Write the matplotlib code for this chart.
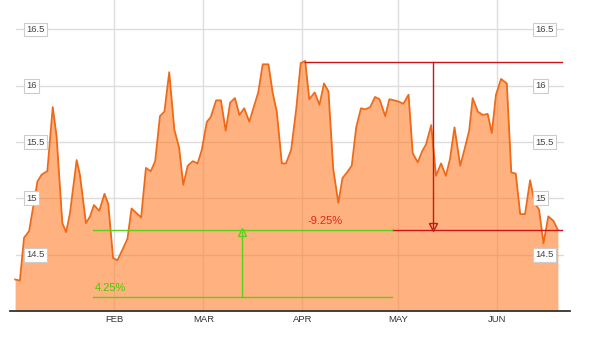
import matplotlib
matplotlib.use("Agg")
import matplotlib.pyplot as plt
import matplotlib.transforms as mtransforms

plt.rcParams['font.family'] = ['Liberation Sans', 'DejaVu Sans']

# day of year (0 = Jan 1) for each point
days = [0.0, 1.5, 2.8, 4.4, 5.7, 7.0, 8.3, 9.4, 10.1, 11.8, 13.0, 14.8, 16.0, 17.2,
        19.3, 20.3, 22.2, 23.5, 24.7, 26.4, 28.0, 29.2, 30.7, 32.1, 35.2, 36.5,
        39.5, 41.0, 42.5, 43.9, 45.4, 46.8, 48.3, 49.9, 51.4, 52.7, 54.1, 55.7,
        57.2, 58.5, 60.1, 61.3, 63.0, 64.5, 66.0, 67.4, 68.9, 70.3, 71.8, 73.4,
        75.0, 76.2, 77.6, 79.4, 80.7, 82.0, 83.6, 84.9, 86.5, 88.1, 89.5, 90.9,
        92.2, 93.9, 95.4, 96.8, 98.2, 99.7, 101.3, 102.6, 104.0, 105.5, 106.9,
        108.4, 109.7, 111.3, 112.8, 114.2, 116.0, 117.3, 118.8, 120.1, 121.7,
        123.3, 124.6, 126.2, 127.6, 128.8, 130.4, 131.9, 133.5, 135.0, 136.3,
        137.7, 139.5, 140.8, 142.3, 143.4, 145.0, 146.6, 148.1, 149.4, 150.7,
        152.3, 154.1, 155.5, 156.9, 158.3, 159.8, 161.4, 162.8, 164.2, 165.6,
        167.1, 168.7, 170.1]
prices = [14.28, 14.27, 14.65, 14.71, 14.93, 15.15, 15.21, 15.23, 15.24, 15.81,
          15.55, 14.78, 14.70, 14.87, 15.34, 15.21, 14.78, 14.84, 14.94, 14.89,
          15.04, 14.95, 14.47, 14.45, 14.64, 14.91, 14.83, 15.27, 15.24, 15.33,
          15.73, 15.77, 16.12, 15.61, 15.45, 15.12, 15.29, 15.33, 15.31, 15.43,
          15.68, 15.72, 15.87, 15.87, 15.60, 15.85, 15.89, 15.74, 15.80, 15.68,
          15.83, 15.94, 16.19, 16.19, 15.94, 15.77, 15.31, 15.31, 15.43, 15.79,
          16.20, 16.22, 15.88, 15.94, 15.83, 16.02, 15.95, 15.26, 14.96, 15.18,
          15.23, 15.29, 15.63, 15.80, 15.79, 15.81, 15.90, 15.88, 15.73, 15.88,
          15.87, 15.86, 15.84, 15.92, 15.40, 15.32, 15.42, 15.48, 15.65, 15.20,
          15.31, 15.20, 15.35, 15.63, 15.29, 15.43, 15.60, 15.89, 15.77, 15.74,
          15.75, 15.58, 15.92, 16.06, 16.02, 15.23, 15.22, 14.86, 14.86, 15.16,
          14.96, 14.90, 14.60, 14.84, 14.80, 14.72]

month_days = [31, 59, 90, 120, 151]
month_labels = ["FEB", "MAR", "APR", "MAY", "JUN"]
y_ticks = [14.5, 15, 15.5, 16, 16.5]
y_tick_labels = ["14.5", "15", "15.5", "16", "16.5"]

high_level = 16.21
last_level = 14.717
low_level = 14.121
drop_label = "-9.25%"
rise_label = "4.25%"

fig = plt.figure(figsize=(6.02, 3.6), dpi=100)
ax = fig.add_axes([10 / 602, 49 / 360, 560 / 602, 311 / 360])
ax.set_xlim(-1.6, 173.9)
ax.set_ylim(14.0, 16.761)

# grid
for yv in y_ticks:
    ax.axhline(yv, xmin=0.0107, xmax=0.9875, color='#dcdcdc', lw=1, zorder=1)
for md in month_days:
    ax.axvline(md, color='#dedede', lw=1, zorder=1)

ax.fill_between(days, prices, 14.0, color='#ff7f2a', alpha=0.6, lw=0, zorder=2)
ax.plot(days, prices, color='#ee6a18', lw=1.3, zorder=3)

# y labels in boxes
trans = mtransforms.blended_transform_factory(ax.transAxes, ax.transData)
for yv, lab in zip(y_ticks, y_tick_labels):
    for xf in (16.5 / 560, 525.5 / 560):
        ax.text(xf, yv, lab, transform=trans, fontsize=6.8, color='#444444',
                ha='left', va='center', zorder=6,
                bbox=dict(boxstyle='square,pad=0.25', fc='white', ec='#cccccc', lw=0.8))

# annotations: red drawdown
red = '#cc1414'
ax.plot([90.9, 171.4], [high_level, high_level], color=red, lw=1, zorder=5)
ax.plot([118.1, 171.4], [last_level, last_level], color=red, lw=1, zorder=5)
ax.plot([131.0, 131.0], [high_level, last_level + 0.02], color=red, lw=1, zorder=5)
ax.plot([131.0], [last_level + 0.025], marker='v', ms=6, mfc='none', mec=red, mew=1, zorder=5)
ax.text(91.5, 14.796, drop_label, color='#e52222', fontsize=8, ha='left', va='center', zorder=6)

# green gain
green = '#5ccf1c'
ax.plot([24.5, 118.1], [last_level, last_level], color=green, lw=1, zorder=5)
ax.plot([24.5, 118.1], [low_level, low_level], color=green, lw=1, zorder=5)
ax.plot([71.2, 71.2], [low_level, last_level - 0.02], color=green, lw=1, zorder=5)
ax.plot([71.2], [last_level - 0.02], marker='^', ms=6, mfc='none', mec=green, mew=1, zorder=5)
ax.text(25.0, 14.204, rise_label, color='#44cc00', fontsize=8, ha='left', va='center', zorder=6)

for s in ['top', 'left', 'right']:
    ax.spines[s].set_visible(False)
ax.spines['bottom'].set_color('#333333')
ax.spines['bottom'].set_linewidth(1.3)
ax.spines['bottom'].set_zorder(7)
ax.set_yticks([])
ax.set_xticks(month_days)
ax.set_xticklabels(month_labels, fontsize=6.8, color='#333333')
ax.tick_params(axis='x', length=0, pad=3)

fig.savefig('out.png', dpi=100)
